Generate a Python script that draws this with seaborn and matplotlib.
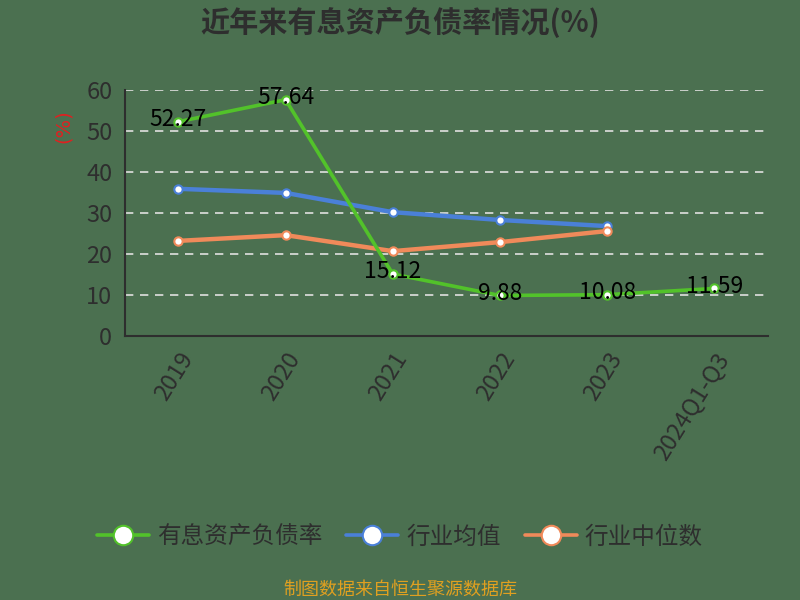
import matplotlib
matplotlib.use("Agg")
import matplotlib.pyplot as plt
from matplotlib.lines import Line2D
import seaborn as sns
import pandas as pd
import numpy as np

categories = ["2019", "2020", "2021", "2022", "2023", "2024Q1-Q3"]
debt_ratio = [52.27, 57.64, 15.12, 9.88, 10.08, 11.59]
industry_mean = [35.9, 34.9, 30.2, 28.3, 26.8]
industry_median = [23.2, 24.6, 20.7, 22.9, 25.6]
y_ticks = [0, 10, 20, 30, 40, 50, 60]

sns.set_theme(style="white")
plt.rcParams['font.family'] = ['Noto Sans CJK SC', 'DejaVu Sans']
plt.rcParams['axes.unicode_minus'] = False

BG = "#4b7050"
GREEN = "#52c22a"
BLUE = "#4a80d8"
ORANGE = "#f08a5a"
DARK = "#2e2e2e"

fig = plt.figure(figsize=(8, 6), dpi=100, facecolor=BG)
ax = fig.add_axes([0.156, 0.44, 0.804, 0.41])
ax.set_facecolor(BG)

df_g = pd.DataFrame({"x": np.arange(len(debt_ratio)), "y": debt_ratio})
df_b = pd.DataFrame({"x": np.arange(len(industry_mean)), "y": industry_mean})
df_o = pd.DataFrame({"x": np.arange(len(industry_median)), "y": industry_median})

mk = dict(marker="o", markersize=6, markerfacecolor="white", markeredgewidth=1.5)
sns.lineplot(data=df_b, x="x", y="y", ax=ax, color=BLUE, linewidth=3.2,
             markeredgecolor=BLUE, zorder=3, **mk)
sns.lineplot(data=df_o, x="x", y="y", ax=ax, color=ORANGE, linewidth=3.2,
             markeredgecolor=ORANGE, zorder=3, **mk)
sns.lineplot(data=df_g, x="x", y="y", ax=ax, color=GREEN, linewidth=2.6,
             markeredgecolor=GREEN, zorder=4, **mk)

for i, v in enumerate(debt_ratio):
    ax.text(i, v + 0.6, f"{v:.2f}", ha="center", va="center", fontsize=16.5,
            color="black", fontweight="medium", zorder=5)

ax.set_xlim(-0.5, len(categories) - 0.5)
ax.set_ylim(0, 60)
ax.set_yticks(y_ticks)
ax.set_yticklabels([str(t) for t in y_ticks], fontsize=17, color=DARK,
                   fontweight="medium")
ax.set_xticks(np.arange(-0.5, len(categories), 1.0))
ax.set_xticklabels([])
ax.set_xticks(np.arange(len(categories)), minor=True)
ax.set_xticklabels(categories, minor=True, rotation=58, ha="right",
                   rotation_mode="anchor", fontsize=17, color=DARK,
                   fontweight="medium")
ax.tick_params(axis="x", which="major", direction="out", length=7, width=1.5, color=DARK)
ax.tick_params(axis="x", which="minor", length=0, pad=9)
ax.tick_params(axis="y", direction="out", length=6, width=1.5, color=DARK, pad=3)

for t in y_ticks[1:]:
    ax.axhline(t, color="#e0e0e0", linestyle=(0, (5, 4)), linewidth=1.2, zorder=1)

for s in ["top", "right"]:
    ax.spines[s].set_visible(False)
for s in ["left", "bottom"]:
    ax.spines[s].set_color(DARK)
    ax.spines[s].set_linewidth(1.5)

ax.set_xlabel("")
ax.set_ylabel("")
fig.text(0.079, 0.79, "(%)", rotation=90, color="#e02020", fontsize=14,
         ha="center", va="center", family=["DejaVu Sans"])

fig.text(0.5, 0.962, "近年来有息资产负债率情况(%)", ha="center", va="center",
         fontsize=21, fontweight="bold", color=DARK)

handles = [
    Line2D([0], [0], color=c, linewidth=2.6, marker="o", markersize=14,
           markerfacecolor="white", markeredgecolor=c, markeredgewidth=1.5)
    for c in (GREEN, BLUE, ORANGE)
]
leg = fig.legend(handles, ["有息资产负债率", "行业均值", "行业中位数"],
                 loc="center", bbox_to_anchor=(0.5, 0.105), ncol=3, frameon=False,
                 fontsize=17, handlelength=2.2, columnspacing=1.0, handletextpad=0.35)
for t in leg.get_texts():
    t.set_color(DARK)
    t.set_fontweight("medium")

fig.text(0.5, 0.018, "制图数据来自恒生聚源数据库", ha="center", va="center",
         fontsize=13, color="#e0a020")

fig.savefig("out.png", dpi=100, facecolor=BG)
